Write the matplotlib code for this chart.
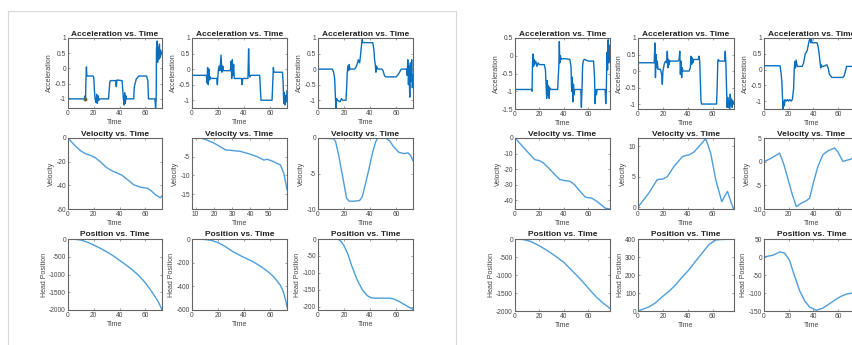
import matplotlib
matplotlib.use("Agg")
import matplotlib.pyplot as plt
from matplotlib.lines import Line2D
from matplotlib.ticker import FormatStrFormatter

W, H = 853, 345

# ---------------- left window (run 1) ----------------
acc_l1_t = [0, 0.3, 13, 13.3, 13.6, 14, 14.3, 14.6, 15, 19.5, 20, 20.5, 21, 21.8, 22.3, 22.8, 23.3, 23.8,
            24.5, 31.5, 32, 32.5, 33, 37, 37.5, 38, 42, 42.5, 43, 43.6, 44, 44.5, 45, 45.5, 51, 51.5, 53, 55,
            61, 62, 62.5, 67.5, 68, 68.5, 68.7, 69.2, 69.6, 70, 70.5, 71, 71.5, 72, 73]
acc_l1_a = [0, -1, -1, -0.9, -1.05, -0.3, 0.05, -0.2, -0.25, -0.25, -0.3, -0.7, -1, -1.12, -0.85, -1.15, -0.9,
            -1.05, -1, -1, -0.7, -0.45, -0.4, -0.4, -0.6, -0.38, -0.4, -0.7, -1, -1.2, -0.8, -1.15, -0.9, -1,
            -1, -0.6, -0.35, -0.25, -0.25, -0.4, -1, -1, -1.3, -1, 0.6, 0.9, 0.2, 0.7, 0.3, 0.8, 0.35, 0.6, 0.45]
tip_t = [13]
tip_a = [-1]

acc_l2_t = [0, 11, 11.5, 12, 12.5, 13, 13.5, 14, 14.5, 19, 19.5, 20.2, 20.8, 21.5, 22.3, 23, 23.6, 24.2, 29.5,
            30, 30.5, 31, 31.5, 32, 32.5, 33.5, 34, 38, 38.5, 39, 43, 43.5, 44, 44.5, 45, 52, 52.5, 53, 61.5,
            62, 62.5, 63, 69.5, 70, 70.5, 71, 71.5, 72, 72.5, 73]
acc_l2_a = [-0.2, -0.2, -0.45, 0.05, -0.5, 0, -0.35, -0.25, -0.3, -0.3, -0.5, -0.05, 0.1, -0.05, 0.45, -0.1,
            0.1, -0.05, -0.05, 0.25, -0.3, 0.3, -0.2, 0.15, -0.3, -0.3, -0.3, -0.3, -0.5, -0.3, -0.3, 0.65,
            -0.2, -0.25, -0.2, -0.2, -0.6, -1, -1, -0.5, 0.05, -0.1, -0.1, -0.4, -1.1, -0.75, -1.15, -0.85,
            -1.05, -0.7]

acc_l3_t = [0, 11, 12, 12.8, 13.3, 13.8, 14.3, 15, 17, 18, 19, 21.5, 22, 22.5, 23, 23.5, 24, 24.5, 28, 29,
            30, 31, 32, 32.8, 33.5, 34, 34.5, 42, 42.5, 43, 43.5, 44, 44.5, 45, 46, 49, 50, 51, 52, 60, 62,
            64, 68, 68.5, 69, 69.5, 70, 70.5, 71, 71.5, 72, 72.5, 73]
acc_l3_a = [0, 0, -0.1, -0.3, -0.8, -1.3, -0.95, -1, -1.05, -0.95, -1, -1, -0.6, -0.1, 0.1, -0.05, 0.15, 0,
            0, 0.05, 0.15, 0.3, 0.2, 0.5, 0.8, 0.95, 0.85, 0.85, 0.75, 0.6, 0.3, 0.15, -0.1, 0.1, 0, 0, -0.05,
            -0.2, -0.25, -0.25, -0.15, 0, 0, -0.2, 0.3, -0.5, 0.1, -0.9, 0.2, -0.4, 0.3, -0.6, -0.2]

vel_l1_t = [0, 5, 10, 14, 17, 21, 25, 30, 34.6, 38, 42, 46, 51, 56, 62, 65, 68, 71.6, 73]
vel_l1_v = [0, -6, -11, -13.5, -14.5, -16.5, -20, -25, -28, -29.5, -31.5, -35, -39.5, -41.5, -42.5, -45,
            -48, -50.5, -49]

vel_l2_t = [8, 10, 12.7, 16, 20, 23, 26.4, 29.1, 31, 34.6, 39, 43.7, 47.3, 49.2, 52, 56.4, 58.3, 60]
vel_l2_v = [0.4, 0.2, 0, -0.5, -1.35, -2.2, -3.2, -3.3, -3.4, -3.6, -4.2, -5, -5.9, -5.7, -6.2, -7.2,
            -9.5, -13.8]

vel_l3_t = [0, 12, 13.5, 16, 19, 22, 24, 28, 32, 34, 36, 39, 42, 44.4, 46, 52, 55, 58, 62, 66, 69, 71, 73]
vel_l3_v = [0, -0.1, -0.5, -2.5, -5.5, -8.5, -8.9, -8.9, -8.8, -8.3, -6.8, -4.5, -2, -0.5, 0, 0, -0.4,
            -1.2, -2, -2.2, -2.1, -2.4, -3.2]

pos_l1_t = [0, 5, 10, 15, 20, 25, 30, 35, 40, 45, 50, 55, 60, 65, 70, 73]
pos_l1_p = [0, -5, -30, -90, -170, -260, -360, -470, -600, -730, -870, -1030, -1230, -1480, -1760, -1990]

pos_l2_t = [0, 5, 10, 15, 20, 25, 31.5, 38, 47, 54, 60, 64, 67.8, 70, 72, 73]
pos_l2_p = [0, -1, -4, -12, -30, -60, -107, -145, -192, -240, -290, -335, -389, -440, -520, -575]

pos_l3_t = [0, 14, 16, 18, 20, 23, 26, 30, 34, 38, 41, 44, 50, 55, 58, 62, 66, 70, 73]
pos_l3_p = [0, 0, -2, -8, -20, -45, -80, -120, -150, -168, -174, -175, -175, -175, -177, -184, -193,
            -202, -208]

# ---------------- right window (run 2) ----------------
acc_r1_t = [0, 0.3, 13.5, 14, 14.4, 14.8, 15.2, 15.6, 16, 17, 18, 19, 20, 24, 25, 25.5, 26, 26.5, 27,
            27.5, 28, 28.5, 29.5, 35, 35.5, 36, 36.4, 36.8, 37.2, 38, 40, 45, 46, 46.5, 47, 47.5, 48, 48.5,
            49, 50, 54, 54.5, 55, 55.5, 56, 57, 60, 64.5, 65.3, 65.8, 66.3, 66.8, 67.5, 74, 74.5, 75, 75.5,
            76, 76.5, 77, 77.5, 78]
acc_r1_a = [0, -0.95, -0.95, -1.0, -0.2, 0.05, -0.3, -0.1, -0.25, -0.15, -0.3, -0.2, -0.25, -0.25, -0.4,
            -0.8, -1.2, -0.7, -1.1, -0.85, -1.2, -0.9, -0.95, -0.95, -0.6, -0.3, 0.4, -0.2, 0, -0.1, -0.08,
            -0.1, -0.3, -1.0, -0.6, -1.3, -0.8, -1.1, -0.95, -0.95, -0.95, -1.45, -0.95, -0.3, -0.15, -0.1,
            -0.15, -0.15, -0.6, -1.35, -0.95, -1.1, -0.95, -0.95, -1.35, -0.95, 0.1, -0.4, 0.45, -0.2, 0.3,
            0.1]

acc_r2_t = [0, 13, 13.5, 14, 14.5, 15, 15.5, 16, 18, 19, 19.5, 20, 21, 22, 23, 23.5, 24, 24.5, 25, 25.5,
            26, 32, 33, 33.5, 34, 34.5, 35, 35.5, 36, 37, 41, 42, 42.5, 43, 43.5, 44, 44.5, 45, 48.5, 49,
            49.5, 50, 50.5, 51, 63, 63.5, 64, 64.5, 65, 69.5, 70, 70.5, 71, 71.5, 72, 72.5, 73, 73.5, 74,
            74.5, 75, 75.5, 76, 77]
acc_r2_a = [0.25, 0.25, 0.85, -0.2, 0.5, 0.1, 0.3, 0.05, 0.05, -0.1, -0.4, 0, 0.2, 0.3, 0.25, 0.6, 0.1,
            0.35, 0.2, 0.3, 0.3, 0.3, 0.35, 0.6, -0.1, 0.3, -0.2, 0.1, 0, 0, 0, 0.1, 0.45, 0.2, 0.4, 0.25,
            0.35, 0.35, 0.35, 0.45, 0.3, -0.3, -0.9, -1, -1, -0.5, 0.3, 0.35, 0.3, 0.3, 0.6, 0.2, -0.5, -1.1,
            -0.8, -1.1, -0.9, -1.15, -0.7, -1.05, -0.85, -1.1, -0.9, -1]

acc_r3_t = [0, 13, 13.8, 14.5, 15, 15.5, 16, 16.5, 17, 18, 19, 20, 21, 22, 23, 24, 24.5, 25, 25.5, 26, 27,
            31, 32, 33.5, 35, 36.5, 37.5, 38, 38.5, 39, 43, 44, 45, 45.5, 46, 46.5, 47, 48, 51, 52, 53, 54,
            55, 64, 65, 66, 67, 72, 77]
acc_r3_a = [0.12, 0.12, -0.1, -0.4, -0.9, -1.25, -1.0, -1.15, -0.95, -1.0, -0.95, -1.0, -0.95, -1.0, -0.95,
            -0.6, 0, 0.25, 0.05, 0.3, 0.1, 0.1, 0.2, 0.5, 0.6, 0.9, 1.0, 0.85, 0.95, 0.85, 0.85, 0.7, 0.4,
            0.2, 0.05, 0.15, 0.1, 0.1, 0.15, 0.05, -0.15, -0.2, -0.25, -0.25, -0.2, -0.05, 0.1, 0.1, 0.1]

vel_r1_t = [0, 13.7, 16.4, 20, 23.3, 26, 30.2, 34, 37, 41, 45.3, 49, 52.1, 55, 57.6, 60, 63, 67.2, 71, 74,
            76, 78]
vel_r1_v = [0, -11.8, -13.9, -14.5, -16, -18, -21.4, -24.5, -26.7, -27.3, -27.8, -30, -33, -35.5, -37.8,
            -38.2, -38.5, -40.6, -43, -44.9, -45.3, -45.5]

vel_r2_t = [0, 8.6, 15.3, 17, 19.4, 23.4, 28.8, 35.5, 38, 40.9, 44.9, 48, 51, 54.3, 58.3, 62.4, 67.2, 70,
            71.8, 74, 76.4, 77]
vel_r2_v = [0, 2.3, 4.5, 4.6, 4.6, 5.0, 6.7, 8.3, 8.5, 8.6, 9.1, 9.8, 10.5, 11.3, 8.9, 4.5, 0.9, 2.0, 2.6,
            1.2, -0.2, -0.3]

vel_r3_t = [0, 5, 12.7, 16, 20, 23, 26.2, 30, 34, 37, 40, 43.7, 47.8, 52, 57.2, 60, 64, 67, 70, 73, 77]
vel_r3_v = [0, 0.6, 1.8, -0.5, -4.2, -7, -9.5, -8.8, -8.3, -7.7, -4.5, -1, 1.5, 2.3, 2.9, 2.0, 0.05, 0.3,
            0.5, 1.0, 1.4]

pos_r1_t = [0, 6, 12.3, 19, 26, 33, 39.8, 46, 53.5, 60, 67.2, 73, 78]
pos_r1_p = [0, -10, -60, -170, -310, -470, -640, -850, -1108, -1360, -1627, -1800, -1925]

pos_r2_t = [0, 8.6, 14, 19.4, 25, 30.1, 35, 40.9, 46, 51.6, 57, 62.4, 66, 70.4, 74, 77]
pos_r2_p = [0, 22, 45, 79, 110, 145, 185, 229, 275, 323, 370, 394, 397, 398, 400, 405]

pos_r3_t = [0, 7.3, 12.7, 16.7, 20.8, 24, 28.9, 33, 37, 42.4, 47.8, 53, 58.6, 62, 66.7, 71.8, 77]
pos_r3_p = [0, 5, 14, 11, -10, -45, -94, -122, -139, -148, -142, -130, -117, -110, -103, -100, -99]

T_ACC = "Acceleration vs. Time"
T_VEL = "Velocity vs. Time"
T_POS = "Position vs. Time"
XT = [0, 20, 40, 60]

# (pixel box l, t, r, b), x, y, xlim, ylim, yticks, xticks, title, ylabel
panels = [
    ((68, 38, 162, 108), acc_l1_t, acc_l1_a, (0, 73), (-1.3, 1), [-1, -0.5, 0, 0.5, 1], XT, T_ACC, "Acceleration"),
    ((192, 38, 287, 108), acc_l2_t, acc_l2_a, (0, 73), (-1.25, 1), [-1, -0.5, 0, 0.5, 1], XT, T_ACC, "Acceleration"),
    ((318, 38, 413, 108), acc_l3_t, acc_l3_a, (0, 73), (-1.25, 1), [-1, -0.5, 0, 0.5, 1], XT, T_ACC, "Acceleration"),
    ((68, 138, 162, 209), vel_l1_t, vel_l1_v, (0, 73), (-60, 0), [-60, -40, -20, 0], XT, T_VEL, "Velocity"),
    ((192, 138, 287, 209), vel_l2_t, vel_l2_v, (8, 60), (-19, 0), [-15, -10, -5], [10, 20, 30, 40, 50], T_VEL, "Velocity"),
    ((318, 138, 413, 209), vel_l3_t, vel_l3_v, (0, 73), (-10, 0), [-10, -5, 0], XT, T_VEL, "Velocity"),
    ((68, 239, 162, 310), pos_l1_t, pos_l1_p, (0, 73), (-2000, 0), [-2000, -1500, -1000, -500, 0], XT, T_POS, "Head Position"),
    ((192, 239, 287, 310), pos_l2_t, pos_l2_p, (0, 73), (-600, 0), [-600, -400, -200, 0], XT, T_POS, "Head Position"),
    ((318, 239, 413, 310), pos_l3_t, pos_l3_p, (0, 73), (-210, 0), [-200, -150, -100, -50, 0], XT, T_POS, "Head Position"),
    ((515, 38, 610, 109), acc_r1_t, acc_r1_a, (0, 78), (-1.5, 0.5), [-1.5, -1, -0.5, 0, 0.5], XT, T_ACC, "Acceleration"),
    ((638, 38, 734, 109), acc_r2_t, acc_r2_a, (0, 77), (-1.15, 1), [-1, -0.5, 0, 0.5, 1], XT, T_ACC, "Acceleration"),
    ((764, 38, 859, 109), acc_r3_t, acc_r3_a, (0, 77), (-1.25, 1), [-1, -0.5, 0, 0.5, 1], XT, T_ACC, "Acceleration"),
    ((515, 138, 610, 209), vel_r1_t, vel_r1_v, (0, 78), (-45.5, 0), [-40, -30, -20, -10, 0], XT, T_VEL, "Velocity"),
    ((638, 138, 734, 209), vel_r2_t, vel_r2_v, (0, 77), (-0.3, 11.4), [0, 5, 10], XT, T_VEL, "Velocity"),
    ((764, 138, 859, 209), vel_r3_t, vel_r3_v, (0, 77), (-10, 5), [-10, -5, 0, 5], XT, T_VEL, "Velocity"),
    ((515, 239, 610, 311), pos_r1_t, pos_r1_p, (0, 78), (-2000, 0), [-2000, -1500, -1000, -500, 0], XT, T_POS, "Head Position"),
    ((638, 239, 734, 311), pos_r2_t, pos_r2_p, (0, 77), (0, 400), [0, 100, 200, 300, 400], XT, T_POS, "Head Position"),
    ((764, 239, 859, 311), pos_r3_t, pos_r3_p, (0, 77), (-150, 50), [-150, -100, -50, 0, 50], XT, T_POS, "Head Position"),
]

plt.rcParams["font.family"] = ["Liberation Sans", "DejaVu Sans"]
plt.rcParams["axes.unicode_minus"] = False

fig = plt.figure(figsize=(W / 100, H / 100), dpi=100)
fig.patch.set_facecolor("white")

# window frame of the left figure
frame = "#d9d9d9"
fig.add_artist(Line2D([8 / W, 456 / W], [1 - 11 / H, 1 - 11 / H], color=frame, lw=0.8))
fig.add_artist(Line2D([8 / W, 8 / W], [1 - 11 / H, 0], color=frame, lw=0.8))
fig.add_artist(Line2D([456 / W, 456 / W], [1 - 11 / H, 0], color=frame, lw=0.8))

for (l, t, r, b), xs, ys, xlim, ylim, yticks, xticks, title, ylabel in panels:
    ax = fig.add_axes([l / W, 1 - b / H, (r - l) / W, (b - t) / H])
    is_acc = title == T_ACC
    ax.plot(xs, ys, color="#0a6fbf" if is_acc else "#4d9edb", lw=1.0)
    ax.set_xlim(*xlim)
    ax.set_ylim(*ylim)
    ax.set_xticks(xticks)
    ax.set_yticks(yticks)
    ax.yaxis.set_major_formatter(FormatStrFormatter("%g"))
    ax.tick_params(direction="in", length=1.5, width=0.4, labelsize=4.8, pad=1.5,
                   colors="#555555", labelcolor="#444444", top=True, right=True)
    for s in ax.spines.values():
        s.set_color("#666666")
        s.set_linewidth(0.8)
    ax.set_title(title, fontsize=6, fontweight="bold", pad=1.8, color="#222222")
    ax.set_xlabel("Time", fontsize=5, labelpad=1.2, color="#444444")
    ax.set_ylabel(ylabel, fontsize=5, labelpad=1, color="#444444")
    if xs is acc_l1_t:
        ax.plot(tip_t, tip_a, "o", ms=1.8, color="#6b6235")

fig.savefig("out.png", dpi=100, facecolor="white")
